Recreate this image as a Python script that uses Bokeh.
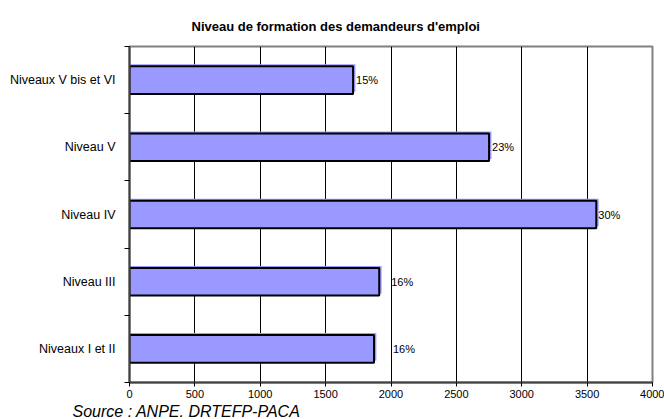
from bokeh.plotting import figure
from bokeh.models import ColumnDataSource, Range1d, FixedTicker, Title
from bokeh.core.properties import value
from bokeh.transform import dodge
from bokeh.embed import file_html
from bokeh.resources import INLINE

categories = ["Niveaux I et II", "Niveau III", "Niveau IV", "Niveau V", "Niveaux V bis et VI"]
values = [1870, 1910, 3570, 2750, 1710]
pct_labels = ["16%", "16%", "30%", "23%", "15%"]
label_dx = [19, 12, 2, 3, 3]
x_ticks = [0, 500, 1000, 1500, 2000, 2500, 3000, 3500, 4000]

ypos = [i + 0.5 for i in range(len(categories))]
src = ColumnDataSource(dict(y=ypos, v=values, t=pct_labels, dx=label_dx,
                            vs=[v + 18 for v in values]))

FONT = "Liberation Sans"

p = figure(width=664, height=419, output_backend="svg", toolbar_location=None,
           x_range=Range1d(0, 4000), y_range=Range1d(0, len(categories)),
           min_border_left=129, min_border_right=12, min_border_top=46, min_border_bottom=37,
           background_fill_color="white", border_fill_color="white")

p.title = Title(text="Niveau de formation des demandeurs d'emploi", align="left", offset=62,
                standoff=25, text_font=FONT, text_font_size="13px",
                text_font_style="bold", text_color="black")

p.outline_line_color = "#808080"
p.outline_line_width = 2

# grid
p.xgrid.ticker = FixedTicker(ticks=x_ticks)
p.xgrid.grid_line_color = "black"
p.xgrid.grid_line_width = 1
p.ygrid.grid_line_color = None

# x axis
xa = p.xaxis[0]
xa.ticker = FixedTicker(ticks=x_ticks)
xa.axis_line_color = "#404040"
xa.axis_line_width = 2
xa.major_tick_line_color = "black"
xa.major_tick_out = 4
xa.major_tick_in = 0
xa.minor_tick_line_color = None
xa.major_label_text_font = FONT
xa.major_label_text_font_size = "11px"
xa.major_label_text_color = "black"
xa.major_label_standoff = 3

# y axis
ya = p.yaxis[0]
ya.ticker = FixedTicker(ticks=ypos, minor_ticks=list(range(len(categories) + 1)))
ya.major_label_overrides = {y: c for y, c in zip(ypos, categories)}
ya.axis_line_color = "#404040"
ya.axis_line_width = 2
ya.major_tick_line_color = None
ya.minor_tick_line_color = "black"
ya.minor_tick_out = 5
ya.minor_tick_in = 0
ya.major_label_text_font = FONT
ya.major_label_text_font_size = "12.5px"
ya.major_label_text_color = "black"
ya.major_label_standoff = 8

# bars: lavender backing slightly up/right, then outlined bar
p.hbar(y=dodge("y", 0.03, range=p.y_range), right="vs", left=0, height=0.41, source=src,
       fill_color="#9999FF", line_color=None)
p.hbar(y="y", right="v", left=0, height=0.41, source=src,
       fill_color="#9999FF", line_color="black", line_width=2)

p.text(x="v", y="y", text="t", x_offset="dx", source=src,
       text_font_size="11px", text_baseline="middle", text_align="left",
       text_color="black", text_font=value(FONT))

source_title = Title(text="Source : ANPE. DRTEFP-PACA", align="left", offset=-57,
                     standoff=0, text_font=FONT, text_font_size="16px",
                     text_font_style="italic", text_color="black")
p.add_layout(source_title, "below")

open("out.html", "w").write(file_html(p, INLINE))
